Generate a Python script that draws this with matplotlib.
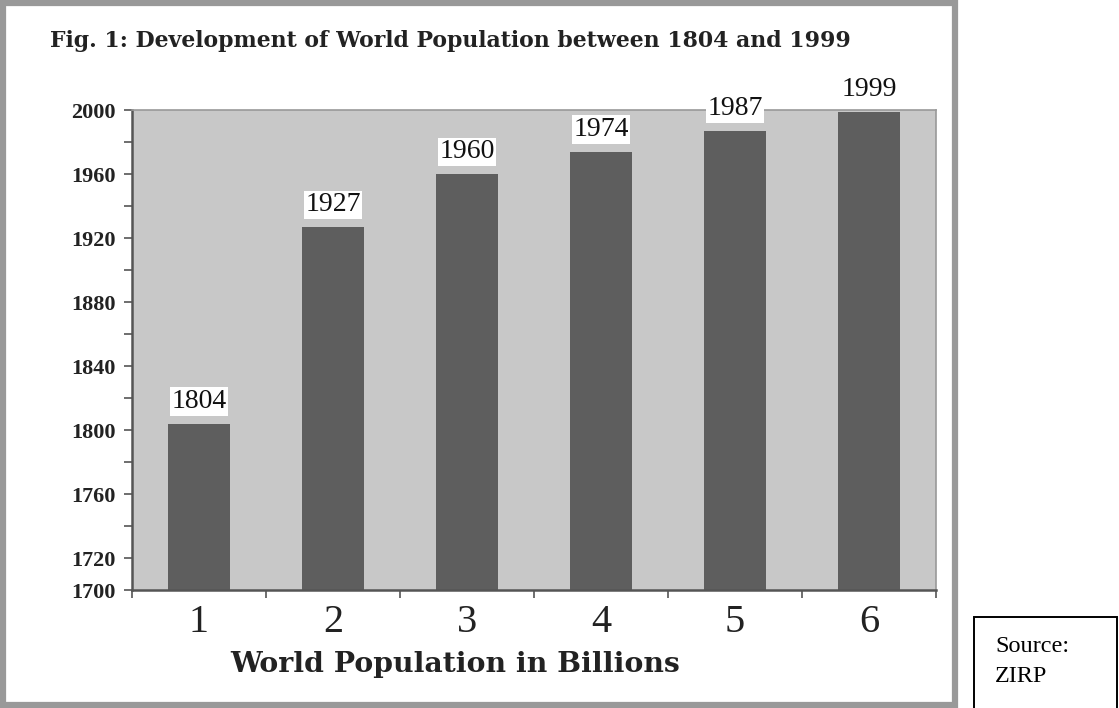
import matplotlib
matplotlib.use("Agg")
import matplotlib.pyplot as plt
from matplotlib.patches import Rectangle

# population milestones (billions) and the year each was reached
billions = [1, 2, 3, 4, 5, 6]
years = [1804, 1927, 1960, 1974, 1987, 1999]
year_ticks = list(range(1700, 2001, 20))
year_labels = [1700, 1720, 1760, 1800, 1840, 1880, 1920, 1960, 2000]

SERIF = "Liberation Serif"
WIDE_SERIF = "DejaVu Serif"
INK = "#222222"
BAR = "#5e5e5e"
PANEL = "#c8c8c8"

W, H = 1119, 708
fig = plt.figure(figsize=(W / 100, H / 100), dpi=100)
fig.patch.set_facecolor("white")

# grey frame around the chart
fig.patches.append(Rectangle((3 / W, 3 / H), 952 / W, 702 / H, transform=fig.transFigure,
                             fill=False, edgecolor="#999999", linewidth=4.5))

ax = fig.add_axes([132 / W, 118 / H, 804 / W, 480 / H])
ax.set_facecolor(PANEL)
ax.bar(billions, [y - 1700 for y in years], bottom=1700, width=0.46, color=BAR, zorder=2)
ax.set_xlim(0.5, 6.5)
ax.set_ylim(1700, 2000)

for x, y in zip(billions, years):
    ax.text(x, y + 6, str(y), ha="center", va="bottom", fontsize=20, family=SERIF,
            color="#111111", zorder=3, clip_on=False,
            bbox=dict(boxstyle="square,pad=0.06", facecolor="white", edgecolor="none"))

ax.set_yticks(year_ticks)
ax.set_yticklabels([str(t) if t in year_labels else "" for t in year_ticks],
                   fontsize=16, family=SERIF, fontweight="bold", color=INK)
ax.set_xticks(billions)
ax.set_xticklabels([str(b) for b in billions], fontsize=29, family=SERIF, color=INK)
ax.set_xticks([x + 0.5 for x in [0] + billions], minor=True)
ax.tick_params(axis="x", which="major", length=0, pad=10)
ax.tick_params(axis="x", which="minor", length=6, width=1.2, color="#555555", direction="out")
ax.tick_params(axis="y", length=6, width=1.2, color="#555555", pad=6)

for side in ("left", "bottom"):
    ax.spines[side].set_color("#555555")
    ax.spines[side].set_linewidth(1.8)
for side in ("top", "right"):
    ax.spines[side].set_color("#999999")
    ax.spines[side].set_linewidth(1.2)

fig.text(455 / W, 1 - 672 / H, "World Population in Billions", fontsize=20.3,
         family=WIDE_SERIF, fontweight="bold", color=INK, ha="center", va="baseline")

fig.text(50 / W, 1 - 47 / H, "Fig. 1: Development of World Population between 1804 and 1999",
         fontsize=15.8, family=WIDE_SERIF, fontweight="bold", color=INK, va="baseline")

# source note box at the lower right
fig.patches.append(Rectangle((974 / W, -10 / H), 143 / W, 101 / H, transform=fig.transFigure,
                             fill=False, edgecolor="black", linewidth=1.4))
fig.text(995 / W, 1 - 652 / H, "Source:", fontsize=17.5, family=SERIF,
         color="black", va="baseline")
fig.text(995 / W, 1 - 682 / H, "ZIRP", fontsize=17.5, family=SERIF,
         color="black", va="baseline")

fig.savefig("out.png", dpi=100)
